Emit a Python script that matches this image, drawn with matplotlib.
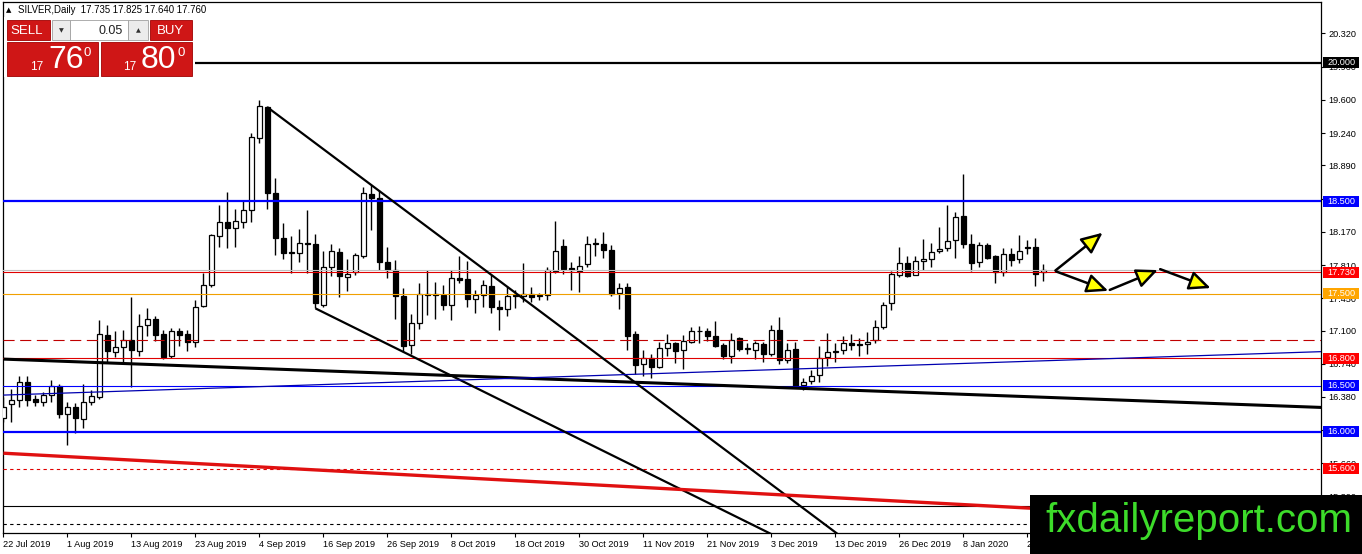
import matplotlib
matplotlib.use('Agg')
import matplotlib.pyplot as plt
import matplotlib.patches as mpatches
import matplotlib.transforms as mtransforms
import numpy as np

# daily candles, bar 0 = 22 Jul 2019
opens = [16.15, 16.30, 16.35, 16.54, 16.36, 16.33, 16.40, 16.50, 16.20, 16.27,
         16.14, 16.33, 16.38, 17.05, 16.87, 16.92, 17.00, 16.88, 17.16, 17.22,
         17.06, 16.82, 17.10, 17.06, 16.98, 17.37, 17.59, 18.12, 18.28, 18.21,
         18.28, 18.41, 19.19, 19.52, 18.59, 18.10, 17.95, 17.94, 18.05, 18.04,
         17.38, 17.79, 17.95, 17.68, 17.73, 17.91, 18.58, 18.54, 17.84, 17.76,
         17.47, 16.94, 17.18, 17.49, 17.50, 17.49, 17.38, 17.67, 17.66, 17.44,
         17.49, 17.58, 17.35, 17.33, 17.47, 17.47, 17.50, 17.47, 17.49, 17.74,
         18.02, 17.78, 17.75, 17.82, 18.05, 18.04, 17.97, 17.51, 17.57, 17.06,
         16.74, 16.80, 16.70, 16.91, 16.96, 16.89, 16.98, 17.09, 17.10, 17.04,
         16.94, 16.82, 17.02, 16.90, 16.89, 16.95, 16.84, 17.11, 16.78, 16.90,
         16.51, 16.55, 16.62, 16.81, 16.87, 16.89, 16.97, 16.955, 16.95, 17.00,
         17.14, 17.40, 17.70, 17.83, 17.70, 17.85, 17.87, 17.96, 17.99, 18.08,
         18.34, 18.04, 17.84, 18.03, 17.91, 17.73, 17.93, 17.87, 18.00, 18.00,
         17.735]
highs = [16.38, 16.47, 16.61, 16.61, 16.40, 16.43, 16.56, 16.52, 16.33, 16.31,
         16.52, 16.46, 17.21, 17.16, 17.10, 17.11, 17.46, 17.28, 17.34, 17.26,
         17.11, 17.13, 17.13, 17.11, 17.43, 17.72, 18.15, 18.46, 18.60, 18.42,
         18.51, 19.24, 19.60, 19.53, 18.75, 18.26, 18.12, 18.20, 18.41, 18.15,
         17.96, 18.04, 17.99, 17.88, 17.94, 18.66, 18.68, 18.62, 18.00, 17.86,
         17.56, 17.28, 17.62, 17.76, 17.63, 17.59, 17.76, 17.91, 17.85, 17.54,
         17.65, 17.70, 17.43, 17.58, 17.54, 17.83, 17.57, 17.51, 17.79, 18.29,
         18.09, 17.84, 17.91, 18.12, 18.10, 18.17, 18.03, 17.61, 17.62, 17.09,
         16.89, 16.85, 16.98, 17.06, 16.98, 17.05, 17.14, 17.15, 17.13, 17.20,
         16.96, 17.07, 17.03, 16.97, 16.99, 16.98, 17.16, 17.25, 16.97, 16.98,
         16.58, 16.67, 16.93, 17.07, 16.96, 17.04, 17.06, 17.02, 17.08, 17.21,
         17.41, 17.74, 18.00, 17.91, 17.91, 18.09, 18.05, 18.22, 18.46, 18.39,
         18.80, 18.15, 18.06, 18.05, 17.92, 17.99, 17.99, 18.13, 18.08, 18.10,
         17.825]
lows = [16.11, 16.11, 16.27, 16.28, 16.28, 16.28, 16.33, 16.15, 15.86, 15.99,
        16.04, 16.29, 16.36, 16.76, 16.81, 16.74, 16.49, 16.82, 17.04, 16.99,
        16.79, 16.80, 16.93, 16.88, 16.92, 17.36, 17.57, 18.01, 17.99, 18.01,
        18.21, 18.28, 19.13, 18.42, 17.92, 17.87, 17.72, 17.84, 17.72, 17.34,
        17.36, 17.69, 17.46, 17.53, 17.70, 17.89, 18.19, 17.76, 17.67, 17.23,
        16.87, 16.84, 17.12, 17.27, 17.23, 17.32, 17.21, 17.61, 17.36, 17.29,
        17.36, 17.29, 17.11, 17.26, 17.34, 17.41, 17.41, 17.43, 17.43, 17.72,
        17.71, 17.54, 17.52, 17.79, 17.91, 17.89, 17.47, 17.33, 16.89, 16.63,
        16.61, 16.59, 16.69, 16.82, 16.75, 16.68, 16.97, 16.97, 16.99, 16.92,
        16.79, 16.75, 16.88, 16.85, 16.79, 16.76, 16.82, 16.74, 16.75, 16.49,
        16.46, 16.52, 16.54, 16.71, 16.76, 16.84, 16.89, 16.82, 16.84, 16.96,
        17.12, 17.32, 17.68, 17.68, 17.70, 17.76, 17.79, 17.94, 17.96, 17.89,
        17.99, 17.74, 17.79, 17.87, 17.62, 17.69, 17.80, 17.83, 17.93, 17.58,
        17.640]
closes = [16.27, 16.35, 16.54, 16.35, 16.33, 16.40, 16.50, 16.20, 16.27, 16.15,
          16.33, 16.39, 17.06, 16.88, 16.92, 17.00, 16.89, 17.15, 17.22, 17.05,
          16.81, 17.10, 17.05, 16.98, 17.35, 17.59, 18.13, 18.28, 18.21, 18.29,
          18.41, 19.20, 19.53, 18.59, 18.10, 17.94, 17.94, 18.05, 18.04, 17.40,
          17.79, 17.96, 17.69, 17.71, 17.92, 18.59, 18.54, 17.84, 17.76, 17.47,
          16.93, 17.18, 17.50, 17.50, 17.49, 17.38, 17.67, 17.65, 17.44, 17.49,
          17.59, 17.35, 17.33, 17.47, 17.48, 17.50, 17.46, 17.48, 17.76, 17.96,
          17.77, 17.76, 17.80, 18.04, 18.04, 17.97, 17.50, 17.56, 17.04, 16.73,
          16.80, 16.70, 16.91, 16.96, 16.88, 16.99, 17.09, 17.10, 17.04, 16.93,
          16.82, 17.00, 16.90, 16.91, 16.97, 16.84, 17.11, 16.78, 16.89, 16.50,
          16.54, 16.61, 16.80, 16.87, 16.88, 16.96, 16.94, 16.945, 16.98, 17.14,
          17.38, 17.71, 17.83, 17.69, 17.85, 17.88, 17.95, 17.98, 18.07, 18.33,
          18.04, 17.83, 18.03, 17.89, 17.73, 17.93, 17.86, 17.96, 17.99, 17.71,
          17.760]

date_labels = ['22 Jul 2019', '1 Aug 2019', '13 Aug 2019', '23 Aug 2019', '4 Sep 2019',
               '16 Sep 2019', '26 Sep 2019', '8 Oct 2019', '18 Oct 2019', '30 Oct 2019',
               '11 Nov 2019', '21 Nov 2019', '3 Dec 2019', '13 Dec 2019', '26 Dec 2019',
               '8 Jan 2020', '20 Jan 2020']
price_ticks = [20.32, 19.96, 19.60, 19.24, 18.89, 18.53, 18.17, 17.81, 17.45,
               17.10, 16.74, 16.38, 16.02, 15.66, 15.30]

# horizontal levels (price, colour, width, dash, tag colour on the axis or None)
levels = [
    (20.000, 'black', 1.6, '-', 'black'),
    (18.500, '#0000ff', 1.6, '-', '#0000ff'),
    (17.760, '#c0c0c0', 0.8, '-', None),
    (17.730, '#e00000', 0.8, '-', '#ff0000'),
    (17.500, '#f0a000', 0.8, '-', '#ffa500'),
    (17.000, '#c00000', 0.8, (0, (10, 5)), None),
    (16.800, '#e00000', 0.8, '-', '#ff0000'),
    (16.500, '#0000ff', 0.8, '-', '#0000ff'),
    (16.000, '#0000ff', 1.6, '-', '#0000ff'),
    (15.600, '#e00000', 0.8, (0, (3, 3)), '#ff0000'),
    (15.200, 'black', 0.8, '-', None),
    (15.000, 'black', 0.8, (0, (3, 3)), None),
]

# trend lines as (bar, price) pairs
wedge_top = [(33, 19.52), (104.5, 14.88)]
wedge_bottom = [(39, 17.34), (96.3, 14.88)]
black_trend = [(0, 16.79), (164.8, 16.266)]
blue_trend = [(0, 16.40), (164.8, 16.871)]
red_trend = [(0, 15.77), (164.8, 15.005)]
# projected path arrows (start, end)
arrows = [((131.5, 17.75), (137.4, 18.16)),
          ((131.6, 17.74), (138.1, 17.53)),
          ((138.3, 17.54), (144.3, 17.755)),
          ((144.6, 17.765), (150.9, 17.56))]

W, H = 1362, 554
AX_L, AX_R, AX_T, AX_B = 3, 1321, 2, 533
fig = plt.figure(figsize=(W / 100, H / 100), dpi=100)
ax = fig.add_axes([AX_L / W, 1 - AX_B / H, (AX_R - AX_L) / W, (AX_B - AX_T) / H])
axw = AX_R - AX_L

x = np.arange(len(opens))
o = np.array(opens)
h = np.array(highs)
l = np.array(lows)
c = np.array(closes)

ax.vlines(x, l, h, color='black', lw=1, zorder=2)
up = c >= o
lo = np.minimum(o, c)
bh = np.maximum(np.abs(c - o), 0.01)
ax.bar(x[up], bh[up], bottom=lo[up], width=0.62, color='white',
       edgecolor='black', lw=0.9, zorder=3)
ax.bar(x[~up], bh[~up], bottom=lo[~up], width=0.62, color='black',
       edgecolor='black', lw=0.9, zorder=3)

ylo, yhi = 14.905, 20.661
ppx = (yhi - ylo) / (AX_B - AX_T)  # price per pixel
tr = mtransforms.blended_transform_factory(ax.transAxes, ax.transData)
for price, col, lw, ls, tag in levels:
    ax.axhline(price, color=col, lw=lw, ls=ls, zorder=4)
    if tag:
        ax.add_patch(mpatches.Rectangle((1 + 2 / axw, price - 5.5 * ppx), 36 / axw,
                                        11 * ppx, transform=tr, fc=tag, ec='none',
                                        clip_on=False, zorder=6))
        ax.text(1 + 6 / axw, price, '%.3f' % price, transform=tr, color='white',
                fontsize=6.6, family='Liberation Sans', ha='left', va='center',
                clip_on=False, zorder=7)

for line, col, lw in [(wedge_top, 'black', 1.6), (wedge_bottom, 'black', 1.6),
                      (black_trend, 'black', 2.2), (blue_trend, '#0000b0', 0.9),
                      (red_trend, '#e01010', 2.4)]:
    xs, ys = zip(*line)
    ax.plot(xs, ys, color=col, lw=lw, zorder=5, solid_capstyle='butt')

for start, end in arrows:
    ax.annotate('', xy=end, xytext=start, zorder=7,
                arrowprops=dict(arrowstyle='-|>,head_length=1.0,head_width=0.45',
                                mutation_scale=13, fc='yellow', ec='black', lw=1.8,
                                shrinkA=0, shrinkB=0))

ax.set_xlim(-0.05, -0.05 + axw / 8)
ax.set_ylim(ylo, yhi)
ax.yaxis.tick_right()
ax.set_yticks(price_ticks)
ax.set_yticklabels(['%.3f' % t for t in price_ticks], family='Liberation Sans')
ax.set_xticks(np.arange(0, 8 * len(date_labels), 8))
ax.set_xticklabels(date_labels, ha='left', family='Liberation Sans')
ax.tick_params(axis='both', labelsize=6.6, length=3, width=0.8, colors='black')
ax.tick_params(axis='y', pad=2.5)
ax.tick_params(axis='x', pad=2)
for sp in ax.spines.values():
    sp.set_linewidth(0.9)


def rect(x0, y0, x1, y1, **kw):
    r = mpatches.Rectangle((x0 / W, 1 - y1 / H), (x1 - x0) / W, (y1 - y0) / H,
                           transform=fig.transFigure, **kw)
    fig.add_artist(r)


def txt(xp, yp, s, **kw):
    fig.text(xp / W, 1 - yp / H, s, **kw)


# one-click trading panel
rect(4, 17, 195, 77, fc='white', ec='none', zorder=10)
red = '#cf1616'
rect(7, 20, 50, 40, fc=red, ec='#a00000', lw=0.6, zorder=11)
rect(150, 20, 192, 40, fc=red, ec='#a00000', lw=0.6, zorder=11)
rect(52, 20, 70, 40, fc='#ececec', ec='#a0a0a0', lw=0.6, zorder=11)
rect(70, 20, 128, 40, fc='white', ec='#a0a0a0', lw=0.6, zorder=11)
rect(128, 20, 148, 40, fc='#ececec', ec='#a0a0a0', lw=0.6, zorder=11)
rect(7, 42, 98, 76, fc=red, ec='#a00000', lw=0.6, zorder=11)
rect(101, 42, 192, 76, fc=red, ec='#a00000', lw=0.6, zorder=11)
pf = 'Liberation Sans'
txt(27, 31, 'SELL', color='white', fontsize=9.5, family=pf, ha='center', va='center', zorder=12)
txt(170, 31, 'BUY', color='white', fontsize=9.5, family=pf, ha='center', va='center', zorder=12)
txt(61, 30.5, '▼', color='#303030', fontsize=4.5, ha='center', va='center', zorder=12)
txt(138, 30.5, '▲', color='#303030', fontsize=4.5, ha='center', va='center', zorder=12)
txt(123, 31, '0.05', color='#202020', fontsize=9, family=pf, ha='right', va='center', zorder=12)
txt(30, 70, '17', color='white', fontsize=8.5, family=pf, ha='left', va='baseline', zorder=12)
txt(48, 68.5, '76', color='white', fontsize=23, family=pf, ha='left', va='baseline', zorder=12)
txt(83, 56, '0', color='white', fontsize=9.5, family=pf, ha='left', va='baseline', zorder=12)
txt(123, 70, '17', color='white', fontsize=8.5, family=pf, ha='left', va='baseline', zorder=12)
txt(141, 68.5, '80', color='white', fontsize=23, family=pf, ha='left', va='baseline', zorder=12)
txt(178, 56, '0', color='white', fontsize=9.5, family=pf, ha='left', va='baseline', zorder=12)
txt(6, 12.5, '▲', color='black', fontsize=5, ha='left', va='baseline', zorder=12)
txt(18, 13, 'SILVER,Daily  17.735 17.825 17.640 17.760', color='black',
    fontsize=6.9, family=pf, ha='left', va='baseline', zorder=12)

# watermark
rect(1030, 495, 1362, 554, fc='black', ec='none', zorder=20)
txt(1045, 532, 'fxdailyreport.com', color='#3ddc2a', fontsize=29,
    family='Liberation Sans', ha='left', va='baseline', zorder=21)

fig.savefig('out.png', dpi=100)
